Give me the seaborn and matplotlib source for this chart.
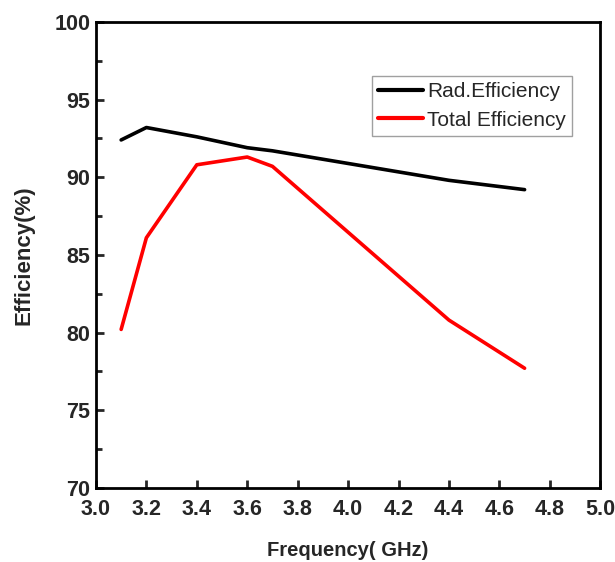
import matplotlib
matplotlib.use("Agg")
import matplotlib.pyplot as plt
import seaborn as sns
import pandas as pd
from matplotlib.ticker import MultipleLocator

freq = [3.1, 3.2, 3.4, 3.6, 3.7, 4.4, 4.7]
rad_eff = [92.4, 93.2, 92.6, 91.9, 91.7, 89.8, 89.2]
total_eff = [80.2, 86.1, 90.8, 91.3, 90.7, 80.8, 77.7]
series_names = ["Rad.Efficiency", "Total Efficiency"]
colors = ["#000000", "#ff0000"]
xticks = [3.0, 3.2, 3.4, 3.6, 3.8, 4.0, 4.2, 4.4, 4.6, 4.8, 5.0]
yticks = [70, 75, 80, 85, 90, 95, 100]

df = pd.concat([
    pd.DataFrame({"Frequency": freq, "Efficiency": rad_eff, "Series": series_names[0]}),
    pd.DataFrame({"Frequency": freq, "Efficiency": total_eff, "Series": series_names[1]}),
])

sns.set_style("white")
plt.rcParams['font.family'] = ['Liberation Sans', 'DejaVu Sans']

fig = plt.figure(figsize=(6.15, 5.62), dpi=100)
ax = fig.add_axes([0.156, 0.132, 0.82, 0.829])
sns.lineplot(data=df, x="Frequency", y="Efficiency", hue="Series",
             palette=colors, linewidth=2.6, ax=ax, legend=True)

ax.set_xlim(3.0, 5.0)
ax.set_ylim(70, 100)
ax.set_xticks(xticks)
ax.set_xticklabels([f"{t:.1f}" for t in xticks], fontweight='bold', fontsize=15.5)
ax.set_yticks(yticks)
ax.set_yticklabels([str(t) for t in yticks], fontweight='bold', fontsize=15.5)
ax.yaxis.set_minor_locator(MultipleLocator(2.5))
ax.tick_params(axis='x', which='major', direction='in', length=6, width=2, pad=8,
               bottom=True, top=False)
ax.tick_params(axis='y', which='major', direction='in', length=6, width=2, pad=4,
               left=True, right=False)
ax.tick_params(axis='y', which='minor', direction='in', length=4, width=2, left=True, right=False)
ax.set_xlim(3.0, 5.0)
for s in ax.spines.values():
    s.set_linewidth(2)
    s.set_color('black')
ax.set_xlabel("Frequency( GHz)", fontsize=14.5, fontweight='bold', labelpad=15)
ax.set_ylabel("Efficiency(%)", fontsize=16, fontweight='bold', labelpad=14)

leg = ax.legend(loc='upper right', bbox_to_anchor=(0.944, 0.884), fontsize=15,
                frameon=True, fancybox=False, edgecolor='#888888', handlelength=2.15,
                borderaxespad=0, handletextpad=0.2, labelspacing=0.45, borderpad=0.3)
leg.get_frame().set_linewidth(1)
for line in leg.get_lines():
    line.set_linewidth(3)

fig.savefig("out.png", dpi=100)
